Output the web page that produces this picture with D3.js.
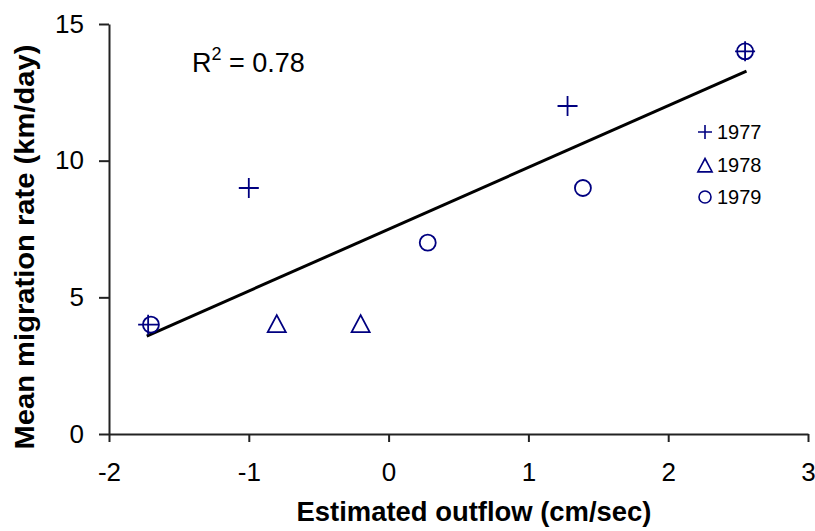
<!DOCTYPE html>
<html>
<head>
<meta charset="utf-8">
<script src="https://cdn.jsdelivr.net/npm/d3@7"></script>
<style>
  html, body { margin: 0; padding: 0; background: #fff; }
  svg { display: block; font-family: "Liberation Sans", Arial, sans-serif; }
</style>
</head>
<body>
<svg id="chart" width="815" height="531"></svg>
<script>
// outflow (cm/sec) vs mean migration rate (km/day), by year
const plus1977 = [[-1.72, 4], [-1.0, 9], [1.28, 12], [2.55, 14]]
const tri1978 = [[-0.8, 4], [-0.2, 4]]
const circ1979 = [[-1.7, 4], [0.28, 7], [1.39, 9], [2.55, 14]]
// fitted line endpoints
const trend = [[-1.73, 3.58], [2.56, 13.28]]
const xTicks = [-2, -1, 0, 1, 2, 3]
const yTicks = [0, 5, 10, 15]
const legendYears = ["1977", "1978", "1979"]

const navy = "#000080"
const svg = d3.select("#chart")

const x = d3.scaleLinear().domain([-2, 3]).range([109, 808])
const y = d3.scaleLinear().domain([0, 15]).range([434, 24])
const fmt = (d) => String(d) // plain hyphen, like the original

// axes
const gx = svg.append("g")
  .attr("transform", `translate(0,${y(0)})`)
  .call(d3.axisBottom(x).tickValues(xTicks).tickFormat(fmt).tickSize(8).tickSizeOuter(0).tickPadding(21))
const gy = svg.append("g")
  .attr("transform", `translate(${x(-2)},0)`)
  .call(d3.axisLeft(y).tickValues(yTicks).tickFormat(fmt).tickSize(10).tickSizeOuter(0).tickPadding(15))

for (const g of [gx, gy]) {
  g.select(".domain").attr("stroke", "#222").attr("stroke-width", 2)
  g.selectAll(".tick line").attr("stroke", "#222").attr("stroke-width", 2)
  g.selectAll(".tick text")
    .attr("fill", "#000")
    .attr("font-size", 26)
    .attr("font-family", "Liberation Sans, Arial, sans-serif")
}

// axis titles
svg.append("text")
  .attr("x", 474)
  .attr("y", 521)
  .attr("text-anchor", "middle")
  .attr("font-size", 27)
  .attr("font-weight", "bold")
  .attr("textLength", 355)
  .attr("lengthAdjust", "spacingAndGlyphs")
  .text("Estimated outflow (cm/sec)")

svg.append("text")
  .attr("transform", "translate(34,247) rotate(-90)")
  .attr("text-anchor", "middle")
  .attr("font-size", 27)
  .attr("font-weight", "bold")
  .attr("textLength", 405)
  .attr("lengthAdjust", "spacingAndGlyphs")
  .text("Mean migration rate (km/day)")

// trend line
svg.append("path")
  .datum(trend)
  .attr("d", d3.line().x((d) => x(d[0])).y((d) => y(d[1])))
  .attr("fill", "none")
  .attr("stroke", "#000")
  .attr("stroke-width", 3)

// R squared
const r2 = svg.append("text")
  .attr("x", 192)
  .attr("y", 72)
  .attr("font-size", 27)
r2.append("tspan").text("R")
r2.append("tspan").attr("dy", -12).attr("font-size", 18).text("2")
r2.append("tspan").attr("dy", 12).text(" = 0.78")

// marker shapes
const plusPath = (s) => `M${-s},0H${s}M0,${-s}V${s}`
const triPath = (s) => `M0,${-s}L${s * 0.95},${s * 0.78}H${-s * 0.95}Z`

const marks = svg.append("g")
  .attr("fill", "none")
  .attr("stroke", navy)
  .attr("stroke-width", 1.8)

marks.selectAll("path.plus")
  .data(plus1977)
  .join("path")
  .attr("class", "plus")
  .attr("transform", (d) => `translate(${x(d[0])},${y(d[1])})`)
  .attr("d", plusPath(10))

marks.selectAll("path.tri")
  .data(tri1978)
  .join("path")
  .attr("class", "tri")
  .attr("transform", (d) => `translate(${x(d[0])},${y(d[1])})`)
  .attr("d", triPath(9.5))

marks.selectAll("circle")
  .data(circ1979)
  .join("circle")
  .attr("cx", (d) => x(d[0]))
  .attr("cy", (d) => y(d[1]))
  .attr("r", 8)

// legend
const legend = svg.append("g").attr("transform", "translate(705,0)")
const rowY = [132, 165, 197]
legendYears.forEach((yr, i) => {
  const row = legend.append("g").attr("transform", `translate(0,${rowY[i]})`)
  if (i === 0) {
    row.append("path").attr("d", plusPath(7))
  } else if (i === 1) {
    row.append("path").attr("d", triPath(7.5)).attr("transform", "translate(0,1)")
  } else {
    row.append("circle").attr("r", 6)
  }
  row.selectAll("path, circle")
    .attr("fill", "none")
    .attr("stroke", navy)
    .attr("stroke-width", 1.6)
  row.append("text")
    .attr("x", 12)
    .attr("y", 7)
    .attr("font-size", 20)
    .attr("fill", "#000")
    .text(yr)
})
</script>
</body>
</html>
